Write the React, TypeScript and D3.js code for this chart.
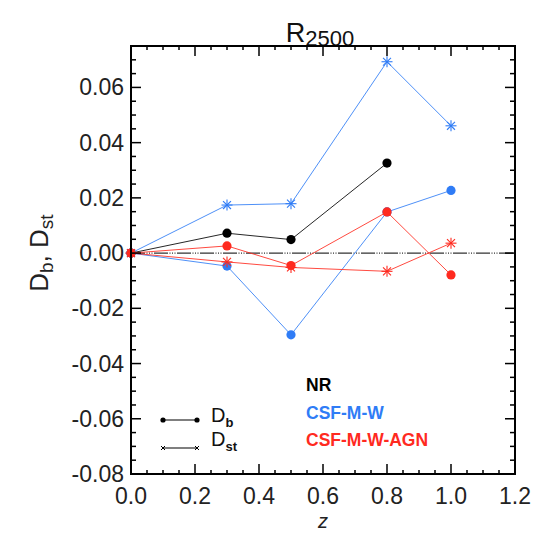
import React from 'react';
import * as d3 from 'd3';

// redshift of each snapshot
const zValues = [0, 0.3, 0.5, 0.8, 1.0];

// D_b / D_st per run
const nrDb = [0, 0.0072, 0.0049, 0.0326];
const csfDb = [0, -0.0047, -0.0296, 0.0149, 0.0227];
const csfDst = [0, 0.0174, 0.0179, 0.0693, 0.0461];
const agnDb = [0, 0.0026, -0.0045, 0.0149, -0.0079];
const agnDst = [0, -0.0032, -0.0052, -0.0066, 0.0036];

const xTicks = [0, 0.2, 0.4, 0.6, 0.8, 1.0, 1.2];
const yTicks = [-0.08, -0.06, -0.04, -0.02, 0, 0.02, 0.04, 0.06];

const runNames = ['NR', 'CSF-M-W', 'CSF-M-W-AGN'];
const runColors = ['#000000', '#2f7cf6', '#ff2a1f'];

const W = 547;
const H = 533;
const L = 131;
const R = 515;
const T = 46;
const B = 474;
const FONT = '"Liberation Sans", Arial, Helvetica, sans-serif';

const x = d3.scaleLinear().domain([0, 1.2]).range([L, R]);
const y = d3.scaleLinear().domain([-0.08, 0.075]).range([B, T]);

type Pt = [number, number];
const toPts = (vals: number[]): Pt[] => vals.map((v, i) => [zValues[i], v]);
const line = d3
  .line<Pt>()
  .x(d => x(d[0]))
  .y(d => y(d[1]));

// plain hyphen for negatives, like the original plot
const fmt = (f: string) => (v: number) => d3.format(f)(v).replace('\u2212', '-');

const Star = ({ cx, cy, s, color }: { cx: number; cy: number; s: number; color: string }) => {
  const d = s * 0.72;
  return (
    <g stroke={color} strokeWidth={1.1}>
      <line x1={cx - s} y1={cy} x2={cx + s} y2={cy} />
      <line x1={cx} y1={cy - s} x2={cx} y2={cy + s} />
      <line x1={cx - d} y1={cy - d} x2={cx + d} y2={cy + d} />
      <line x1={cx - d} y1={cy + d} x2={cx + d} y2={cy - d} />
    </g>
  );
};

const Cross = ({ cx, cy, s, color }: { cx: number; cy: number; s: number; color: string }) => (
  <g stroke={color} strokeWidth={1}>
    <line x1={cx - s} y1={cy - s} x2={cx + s} y2={cy + s} />
    <line x1={cx - s} y1={cy + s} x2={cx + s} y2={cy - s} />
  </g>
);

const series = [
  { vals: nrDb, color: runColors[0], kind: 'b' },
  { vals: csfDst, color: runColors[1], kind: 'st' },
  { vals: csfDb, color: runColors[1], kind: 'b' },
  { vals: agnDst, color: runColors[2], kind: 'st' },
  { vals: agnDb, color: runColors[2], kind: 'b' },
];

export default function App() {
  const xMinor = d3.range(0, 1.2001, 0.05);
  const yMinor = d3.range(-0.08, 0.0751, 0.005);

  return (
    <svg
      width={W}
      height={H}
      style={{ position: 'absolute', left: 0, top: 0, background: '#fff' }}
      fontFamily={FONT}
    >
      {/* title */}
      <text x={320} y={42} textAnchor="middle" fontSize={27} fill="#111">
        R<tspan fontSize={22} dy={4}>2500</tspan>
      </text>

      {/* zero line */}
      <line
        x1={L}
        x2={R}
        y1={y(0)}
        y2={y(0)}
        stroke="#333"
        strokeWidth={1.2}
        strokeDasharray="14,1.5,1,1.5,1,1.5,1,1.5"
      />

      {/* series */}
      {series.map((s, i) => {
        const pts = toPts(s.vals);
        return (
          <g key={i}>
            <path d={line(pts) || ''} fill="none" stroke={s.color} strokeWidth={1} opacity={0.85} />
            {pts.map((p, j) =>
              s.kind === 'b' ? (
                <circle key={j} cx={x(p[0])} cy={y(p[1])} r={4.6} fill={s.color} />
              ) : (
                <Star key={j} cx={x(p[0])} cy={y(p[1])} s={5.5} color={s.color} />
              )
            )}
          </g>
        );
      })}

      {/* ticks */}
      <g stroke="#000" strokeWidth={1.5}>
        {xMinor.map((v, i) => {
          const major = i % 4 === 0;
          const len = major ? 10 : 4;
          return (
            <g key={'x' + i}>
              <line x1={x(v)} x2={x(v)} y1={B} y2={B - len} />
              <line x1={x(v)} x2={x(v)} y1={T} y2={T + len} />
            </g>
          );
        })}
        {yMinor.map((v, i) => {
          const major = i % 4 === 0;
          const len = major ? 10 : 5;
          return (
            <g key={'y' + i}>
              <line x1={L} x2={L + len} y1={y(v)} y2={y(v)} />
              <line x1={R} x2={R - len} y1={y(v)} y2={y(v)} />
            </g>
          );
        })}
      </g>

      {/* frame */}
      <rect x={L} y={T} width={R - L} height={B - T} fill="none" stroke="#000" strokeWidth={2} />

      {/* tick labels */}
      <g fontSize={23} fill="#222">
        {xTicks.map(v => (
          <text key={v} x={x(v)} y={B + 30} textAnchor="middle">
            {fmt('.1f')(v)}
          </text>
        ))}
        {yTicks.map(v => (
          <text key={v} x={L - 7} y={y(v) + 8} textAnchor="end">
            {fmt('.2f')(v)}
          </text>
        ))}
      </g>

      {/* axis titles */}
      <text x={323} y={528} textAnchor="middle" fontSize={20} fontStyle="italic" fill="#222">
        z
      </text>
      <text transform={`translate(48,${y(0)}) rotate(-90)`} textAnchor="middle" fontSize={26} fill="#222">
        D<tspan fontSize={19} dy={5}>b</tspan>
        <tspan dy={-5}>, D</tspan>
        <tspan fontSize={19} dy={5}>st</tspan>
      </text>

      {/* legend: symbols */}
      <g>
        <line x1={163} x2={197} y1={420} y2={420} stroke="#000" strokeWidth={1.2} />
        <circle cx={163} cy={420} r={2.6} fill="#000" />
        <circle cx={197} cy={420} r={2.6} fill="#000" />
        <text x={211} y={422} fontSize={20} fill="#111">
          D<tspan fontSize={13} dy={5} fontWeight="bold">b</tspan>
        </text>
        <line x1={163} x2={197} y1={448} y2={448} stroke="#000" strokeWidth={1.2} />
        <Cross cx={163} cy={448} s={2} color="#000" />
        <Cross cx={197} cy={448} s={2} color="#000" />
        <text x={211} y={446} fontSize={20} fill="#111">
          D<tspan fontSize={13} dy={5} fontWeight="bold">st</tspan>
        </text>
      </g>

      {/* legend: runs */}
      <g fontSize={17.5} fontWeight="bold">
        {runNames.map((n, i) => (
          <text key={n} x={306} y={391 + i * 27.5} fill={runColors[i]}>
            {n}
          </text>
        ))}
      </g>
    </svg>
  );
}
